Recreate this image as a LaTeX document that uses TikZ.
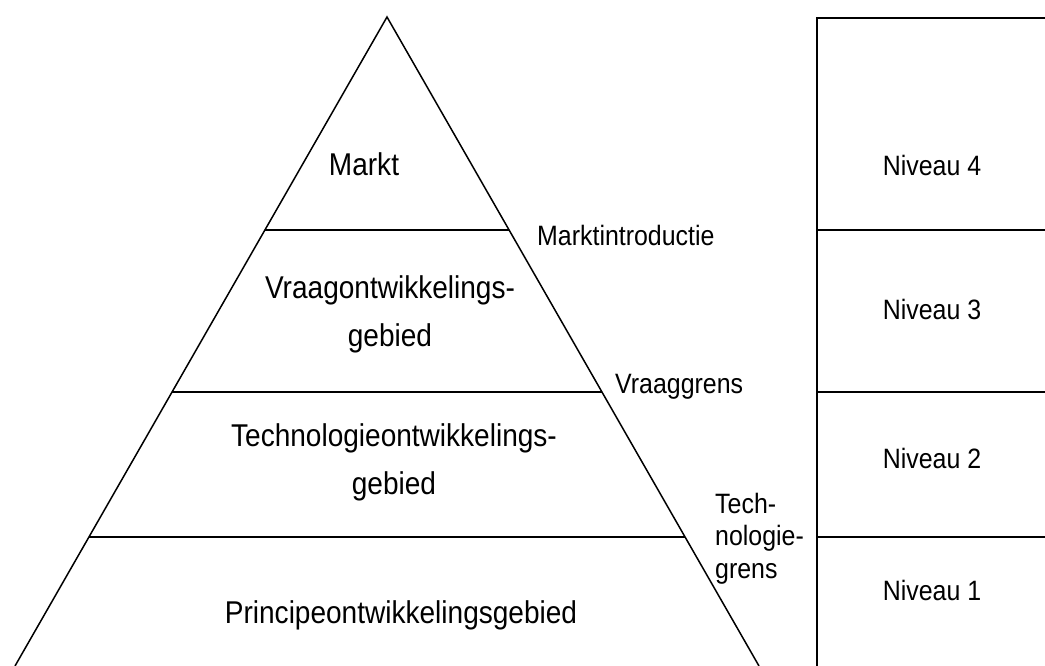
\documentclass[tikz,border=0pt]{standalone}
\usepackage{fontspec}
\setmainfont[FakeStretch=0.89]{Liberation Sans}
\usetikzlibrary{calc}
\tikzset{
  rand/.style={line width=1.5pt,color=black},
  gebied/.style={font=\fontsize{31.5}{48}\selectfont,align=center,anchor=base,inner sep=0pt},
  grens/.style={font=\fontsize{28}{32.5}\selectfont,align=left,anchor=base west,inner sep=0pt},
  niveau/.style={font=\fontsize{28}{30}\selectfont,anchor=base,inner sep=0pt}
}

\begin{document}
\begin{tikzpicture}[x=1pt,y=-1pt]
\useasboundingbox (0,0) rectangle (1045,666);

% piramide
\coordinate (A) at (387,17);
\coordinate (B) at (15,666);
\coordinate (C) at (759,666);
\draw[rand,line join=miter] (B) -- (A) -- (C);

\coordinate (B1) at ($(A)!0.3282!(B)$);
\coordinate (C1) at ($(A)!0.3282!(C)$);
\coordinate (B2) at ($(A)!0.5778!(B)$);
\coordinate (C2) at ($(A)!0.5778!(C)$);
\coordinate (B3) at ($(A)!0.8012!(B)$);
\coordinate (C3) at ($(A)!0.8012!(C)$);
\draw[rand] (B1) -- (C1);
\draw[rand] (B2) -- (C2);
\draw[rand] (B3) -- (C3);

% baseline of the last line
\node[gebied] (markt) at (364,176) {Markt};
\node[gebied] (vraag) at (390,346) {Vraagontwikkelings-\\gebied};
\node[gebied] (techno) at (394,494) {Technologieontwikkelings-\\gebied};
\node[gebied] (principe) at (401,623) {Principeontwikkelingsgebied};

\node[grens] (introductie) at (537,245) {Marktintroductie};
\node[grens] (vraaggrens) at (615,393) {Vraaggrens};
\node[grens] (techgrens) at (715,578) {Tech-\\nologie-\\grens};

% niveaus
\coordinate (N0) at (817,18);
\coordinate (N4) at (817,230);
\coordinate (N3) at (817,392);
\coordinate (N2) at (817,537);
\coordinate (N1) at (817,666);
\draw[rand,line join=miter] (1045,18) -- (N0) -- (N1);
\foreach \p in {N4,N3,N2}
  \draw[rand] (\p) -- +(228,0);

\node[niveau] (niv4) at (932,176) {Niveau 4};
\node[niveau] (niv3) at (932,319) {Niveau 3};
\node[niveau] (niv2) at (932,468) {Niveau 2};
\node[niveau] (niv1) at (932,600) {Niveau 1};

\end{tikzpicture}
\end{document}
